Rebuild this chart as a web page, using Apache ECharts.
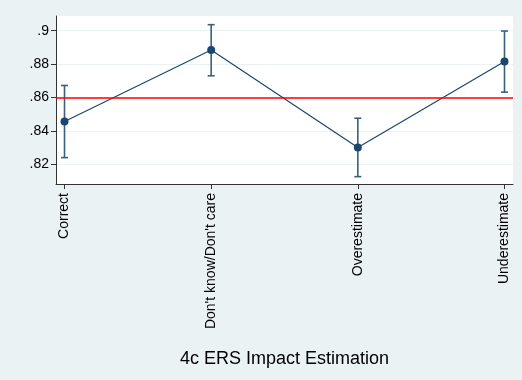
<!DOCTYPE html>
<html>
<head>
<meta charset="utf-8">
<script src="https://cdn.jsdelivr.net/npm/echarts@6/dist/echarts.min.js"></script>
<style>
  html, body { margin: 0; padding: 0; background: #eaf2f3; }
  #chart { width: 522px; height: 380px; }
</style>
</head>
<body>
<div id="chart"></div>
<script>
// Mean by response category with 95% confidence intervals
const categories = ['Correct', "Don't know/Don't care", 'Overestimate', 'Underestimate'];
const means = [0.8456, 0.8884, 0.8300, 0.8815];
const ciLow = [0.8240, 0.8730, 0.8126, 0.8632];
const ciHigh = [0.8672, 0.9036, 0.8476, 0.8998];
const referenceValue = 0.859;
const yTicks = [0.82, 0.84, 0.86, 0.88, 0.9];
const xTitle = '4c ERS Impact Estimation';

const positions = categories.map((_, i) => i + 1);
const FONT = "'Liberation Sans', Arial, sans-serif";
const NAVY = '#1a476f';

const chart = echarts.init(document.getElementById('chart'), null, { renderer: 'canvas' });

chart.setOption({
  backgroundColor: '#eaf2f3',
  animation: false,
  grid: {
    left: 56, right: 9, top: 16, bottom: 196,
    show: true, backgroundColor: '#ffffff', borderWidth: 0
  },
  xAxis: {
    type: 'value',
    min: 0.942, max: 4.058,
    name: xTitle,
    nameLocation: 'middle',
    nameGap: 166,
    nameTextStyle: { fontFamily: FONT, fontSize: 18, color: '#000' },
    axisLine: { lineStyle: { color: '#333', width: 1 } },
    axisTick: { show: true, length: 5, customValues: positions, lineStyle: { color: '#333' } },
    axisLabel: {
      customValues: positions,
      rotate: 90,
      margin: 9,
      fontFamily: FONT, fontSize: 14, color: '#000',
      formatter: v => categories[Math.round(v) - 1]
    },
    splitLine: { show: false }
  },
  yAxis: {
    type: 'value',
    min: 0.8082, max: 0.9088,
    axisLine: { show: true, lineStyle: { color: '#333', width: 1 } },
    axisTick: { show: true, length: 5, customValues: yTicks, lineStyle: { color: '#333' } },
    axisLabel: {
      customValues: yTicks,
      margin: 7,
      fontFamily: FONT, fontSize: 14, color: '#000',
      formatter: v => String(+v.toFixed(2)).replace(/^0\./, '.')
    },
    splitLine: { show: true, lineStyle: { color: '#eaf2f3', width: 1 } }
  },
  series: [
    {
      // horizontal reference line
      type: 'line',
      data: [],
      markLine: {
        silent: true,
        symbol: 'none',
        label: { show: false },
        lineStyle: { color: '#ff0000', width: 1.5, type: 'solid' },
        data: [{ yAxis: referenceValue }]
      },
      z: 1
    },
    {
      // confidence interval caps
      type: 'custom',
      z: 2,
      data: positions.map((x, i) => [x, ciLow[i], ciHigh[i]]),
      renderItem: (params, api) => {
        const x = api.value(0);
        const lo = api.coord([x, api.value(1)]);
        const hi = api.coord([x, api.value(2)]);
        const half = 3.5;
        const style = { stroke: '#3a5f80', lineWidth: 1.6, fill: null };
        return {
          type: 'group',
          children: [
            { type: 'line', shape: { x1: hi[0], y1: hi[1], x2: lo[0], y2: lo[1] }, style },
            { type: 'line', shape: { x1: hi[0] - half, y1: hi[1], x2: hi[0] + half, y2: hi[1] }, style },
            { type: 'line', shape: { x1: lo[0] - half, y1: lo[1], x2: lo[0] + half, y2: lo[1] }, style }
          ]
        };
      }
    },
    {
      type: 'line',
      z: 3,
      data: positions.map((x, i) => [x, means[i]]),
      symbol: 'circle',
      symbolSize: 8,
      showSymbol: true,
      lineStyle: { color: NAVY, width: 1.2 },
      itemStyle: { color: NAVY, borderWidth: 0 }
    }
  ]
});
</script>
</body>
</html>
